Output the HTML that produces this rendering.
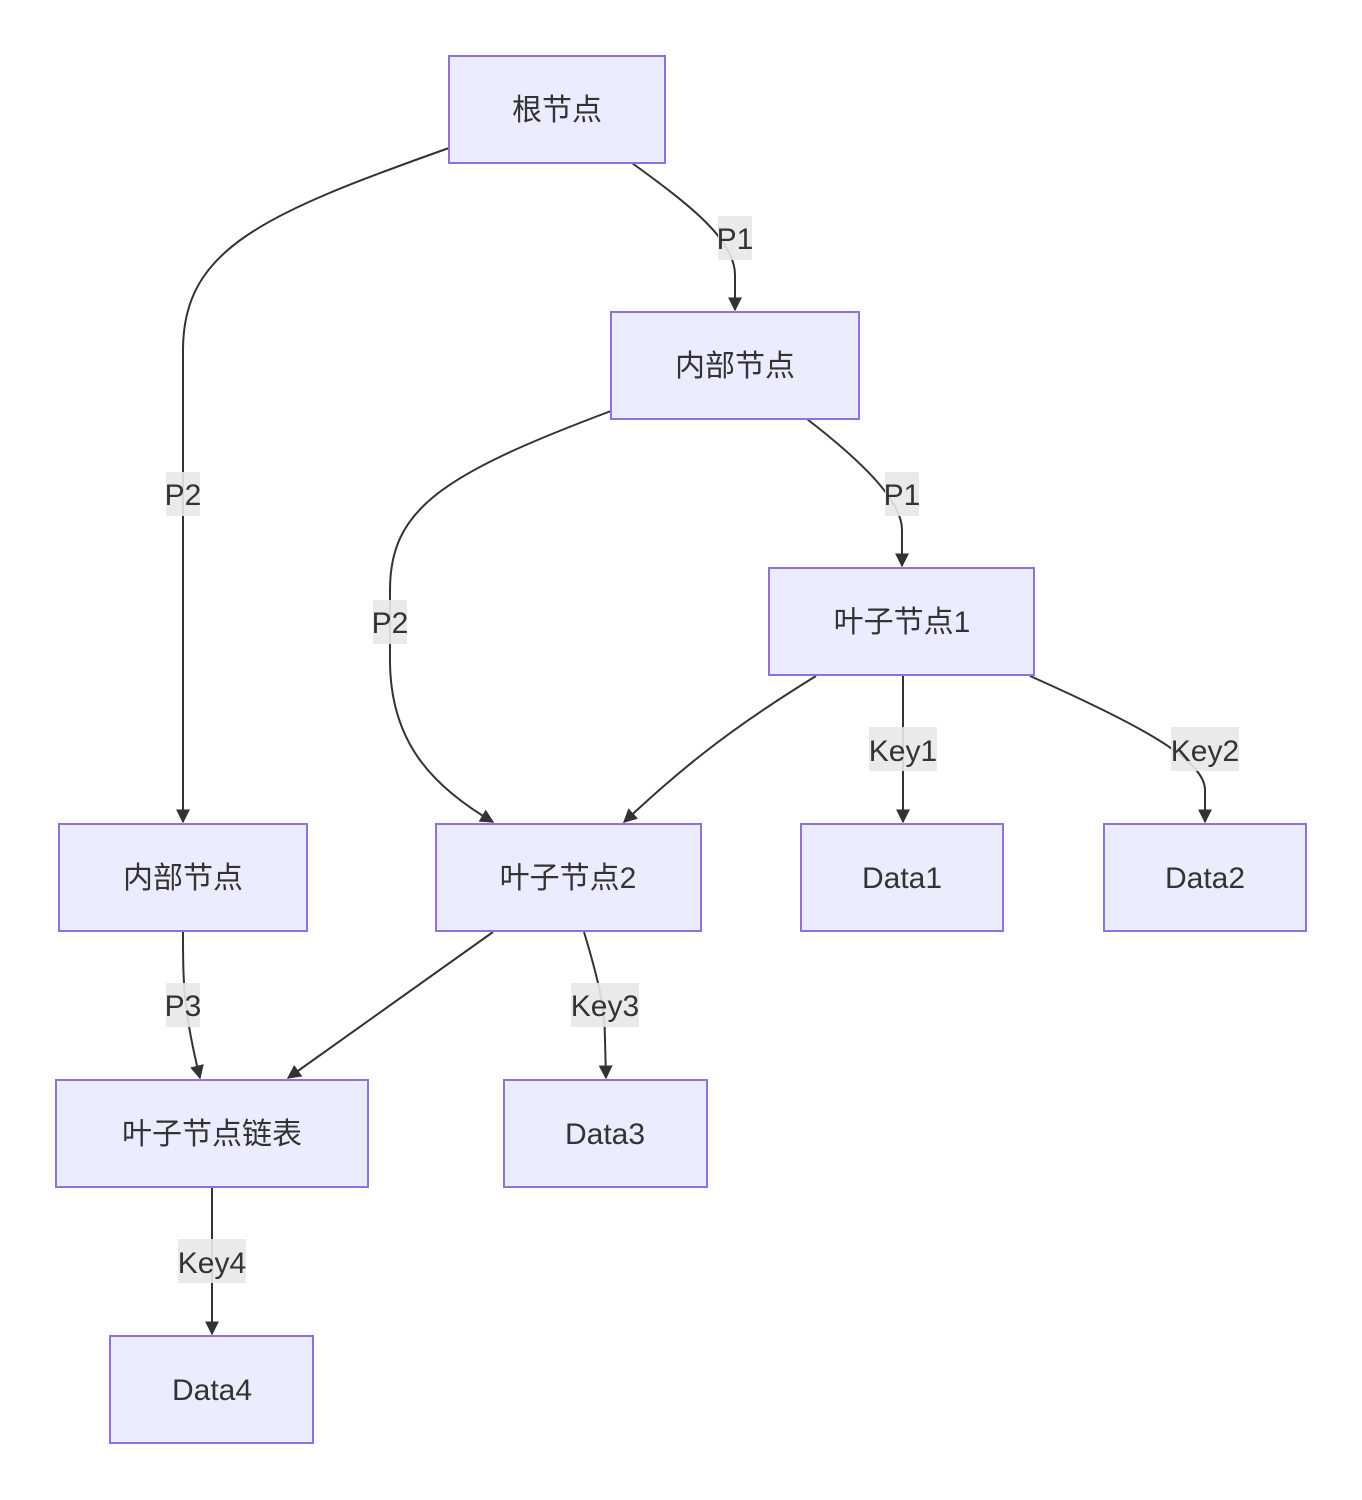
<!DOCTYPE html>
<html><head><meta charset="utf-8"><style>
html,body{margin:0;padding:0;background:#fff;}
svg{display:block;}
text{font-family:"Liberation Sans","Noto Sans CJK SC",sans-serif;font-size:30px;fill:#333;}
.n{fill:#ECECFF;stroke:#9370DB;stroke-width:2;}
.e{fill:none;stroke:#333;stroke-width:2;}
.lb{fill:#e8e8e8;opacity:0.9;}
</style></head><body>
<svg width="1362" height="1500" viewBox="0 0 1362 1500" xmlns="http://www.w3.org/2000/svg">
<defs>
<marker id="b" viewBox="0 0 10 10" refX="9" refY="5" markerWidth="14" markerHeight="14" orient="auto" markerUnits="userSpaceOnUse"><path d="M0,0L10,5L0,10z" fill="#333"/></marker></defs>
<g>
<path class="e" marker-end="url(#b)" d="M449,148 C260,215 183,250 183,350 L183,822"/>
<path class="e" marker-end="url(#b)" d="M632,163 C690,205 735,240 735,275 L735,310"/>
<path class="e" marker-end="url(#b)" d="M611,411 C440,475 390,510 390,590 L390,660 C390,740 430,785 493,822"/>
<path class="e" marker-end="url(#b)" d="M807,419 C860,460 902,500 902,530 L902,566"/>
<path class="e" marker-end="url(#b)" d="M816,676 C720,735 675,775 624,822"/>
<path class="e" marker-end="url(#b)" d="M903,676 L903,822"/>
<path class="e" marker-end="url(#b)" d="M1030,676 C1140,725 1205,760 1205,790 L1205,822"/>
<path class="e" marker-end="url(#b)" d="M183,931 C183,980 183,1010 200,1078"/>
<path class="e" marker-end="url(#b)" d="M493,932 L288,1078"/>
<path class="e" marker-end="url(#b)" d="M584,932 C600,985 605,1010 605,1040 L606,1078"/>
<path class="e" marker-end="url(#b)" d="M212,1187 L212,1334"/>
</g>
<g>
<rect class="lb" x="166" y="472" width="34" height="44"/><text x="183" y="505" text-anchor="middle">P2</text>
<rect class="lb" x="718" y="216" width="34" height="44"/><text x="735" y="249" text-anchor="middle">P1</text>
<rect class="lb" x="373" y="600" width="34" height="44"/><text x="390" y="633" text-anchor="middle">P2</text>
<rect class="lb" x="885" y="472" width="34" height="44"/><text x="902" y="505" text-anchor="middle">P1</text>
<rect class="lb" x="869" y="727" width="68" height="44"/><text x="903" y="761" text-anchor="middle">Key1</text>
<rect class="lb" x="1171" y="727" width="68" height="44"/><text x="1205" y="761" text-anchor="middle">Key2</text>
<rect class="lb" x="166" y="983" width="34" height="44"/><text x="183" y="1016" text-anchor="middle">P3</text>
<rect class="lb" x="571" y="983" width="68" height="44"/><text x="605" y="1016" text-anchor="middle">Key3</text>
<rect class="lb" x="178" y="1239" width="68" height="44"/><text x="212" y="1273" text-anchor="middle">Key4</text>
</g>
<g>
<rect class="n" x="449" y="56" width="216" height="107"/><text x="557" y="120" text-anchor="middle">根节点</text>
<rect class="n" x="611" y="312" width="248" height="107"/><text x="735" y="376" text-anchor="middle">内部节点</text>
<rect class="n" x="769" y="568" width="265" height="107"/><text x="902" y="632" text-anchor="middle">叶子节点1</text>
<rect class="n" x="59" y="824" width="248" height="107"/><text x="183" y="888" text-anchor="middle">内部节点</text>
<rect class="n" x="436" y="824" width="265" height="107"/><text x="568" y="888" text-anchor="middle">叶子节点2</text>
<rect class="n" x="801" y="824" width="202" height="107"/><text x="902" y="888" text-anchor="middle">Data1</text>
<rect class="n" x="1104" y="824" width="202" height="107"/><text x="1205" y="888" text-anchor="middle">Data2</text>
<rect class="n" x="56" y="1080" width="312" height="107"/><text x="212" y="1144" text-anchor="middle">叶子节点链表</text>
<rect class="n" x="504" y="1080" width="203" height="107"/><text x="605" y="1144" text-anchor="middle">Data3</text>
<rect class="n" x="110" y="1336" width="203" height="107"/><text x="212" y="1400" text-anchor="middle">Data4</text>
</g>
</svg>
</body></html>
